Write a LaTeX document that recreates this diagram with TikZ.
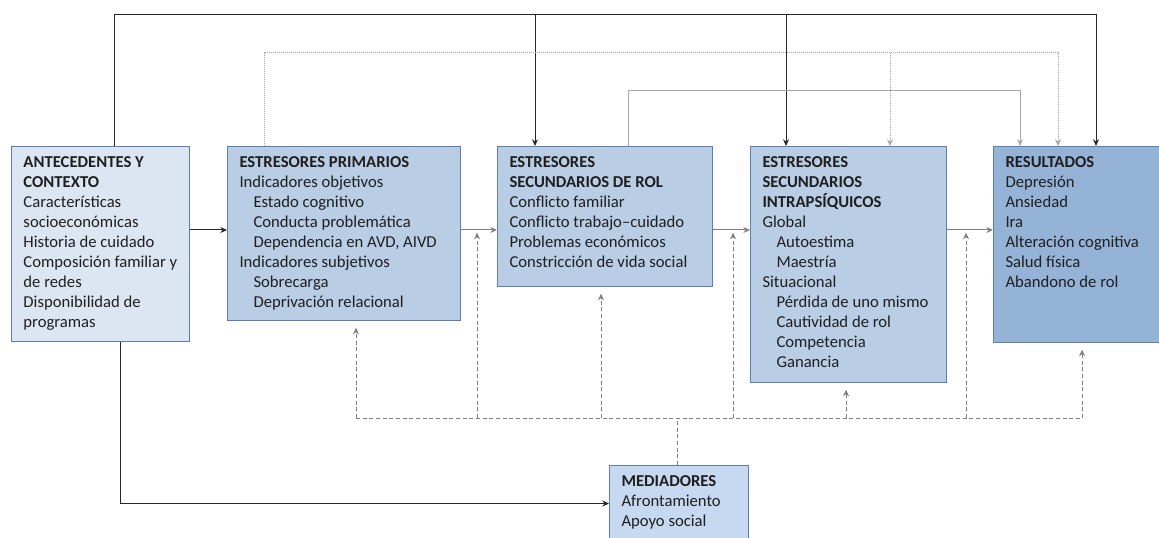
\documentclass[tikz,border=0pt]{standalone}
\usepackage{fontspec}
\setmainfont{Carlito}
\usetikzlibrary{arrows.meta}

\definecolor{antfill}{HTML}{DCE6F2}
\definecolor{midfill}{HTML}{B9CDE5}
\definecolor{resfill}{HTML}{95B3D7}
\definecolor{medfill}{HTML}{C6D9F1}
\definecolor{boxline}{HTML}{5A7EB5}
\definecolor{lnk}{HTML}{808080}
\definecolor{lnklight}{HTML}{A6A6A6}

\newcommand{\boxtext}[3]{\parbox[t][#2][t]{#1}{\raggedright\leftskip=9pt\relax #3}}
\newcommand{\ind}{\hspace*{10.5pt}}

\begin{document}
\begin{tikzpicture}[x=0.75pt,y=-0.75pt,
  block/.style={draw=boxline,line width=0.75pt,anchor=north west,inner xsep=0pt,inner ysep=7.75pt,
    font=\fontsize{12.5}{15}\selectfont,text=black!88},
  blk/.style={draw=black!85,line width=0.75pt,-{Stealth[length=5pt,width=4.5pt]}},
  gry/.style={draw=lnk,line width=0.75pt,-{Stealth[length=5pt,width=4.5pt]}},
  dotlink/.style={draw=lnklight,line width=0.75pt,dash pattern=on 0.75pt off 0.75pt,-{Stealth[length=5pt,width=4.5pt]}},
  dashlink/.style={draw=lnk,line width=0.75pt,dash pattern=on 3pt off 2pt,-{Stealth[length=5pt,width=4.5pt]}}]
\useasboundingbox (0,0) rectangle (1159,538);
% levels of the connectors
\coordinate (lvA) at (0,15);
\coordinate (lvB) at (0,53);
\coordinate (lvC) at (0,91);
\coordinate (mid) at (0,230);
\coordinate (lvD) at (0,418);
\foreach \n/\x in {kA/114,kB/535,kC/786,kD/1096,kE/264,kF/890,kG/1058,kH/628,kI/1020,kJ/120,kK/677,kL/356,kM/1082}
  \coordinate (\n) at (\x,0);
\path
(11,146) node [block,fill=antfill] (ant) {\boxtext{133.5pt}{130.75pt}{\textbf{ANTECEDENTES Y}\\\textbf{CONTEXTO}\\Características\\socioeconómicas\\Historia de cuidado\\Composición familiar y\\de redes\\Disponibilidad de\\programas}}
(227,146) node [block,fill=midfill] (prim) {\boxtext{174.75pt}{115pt}{\textbf{ESTRESORES PRIMARIOS}\\Indicadores objetivos\\\ind Estado cognitivo\\\ind Conducta problemática\\\ind Dependencia en AVD, AIVD\\Indicadores subjetivos\\\ind Sobrecarga\\\ind Deprivación relacional}}
(497,146) node [block,fill=midfill] (rol) {\boxtext{161.25pt}{89.5pt}{\textbf{ESTRESORES}\\\textbf{SECUNDARIOS DE ROL}\\Conflicto familiar\\Conflicto trabajo--cuidado\\Problemas económicos\\Constricción de vida social}}
(750,146) node [block,fill=midfill] (intra) {\boxtext{147pt}{161.5pt}{\textbf{ESTRESORES}\\\textbf{SECUNDARIOS}\\\textbf{INTRAPSÍQUICOS}\\Global\\\ind Autoestima\\\ind Maestría\\Situacional\\\ind Pérdida de uno mismo\\\ind Cautividad de rol\\\ind Competencia\\\ind Ganancia}}
(993,146) node [block,fill=resfill] (res) {\boxtext{127.5pt}{131.5pt}{\textbf{RESULTADOS}\\Depresión\\Ansiedad\\Ira\\Alteración cognitiva\\Salud física\\Abandono de rol}}
(609,465) node [block,fill=medfill] (med) {\boxtext{104pt}{41.5pt}{\textbf{MEDIADORES}\\Afrontamiento\\Apoyo social}}
;
% upper connectors
\draw[blk] (ant.north -| kA) |- (lvA -| kD) -- (res.north -| kD);
\draw[blk] (lvA -| kB) -- (rol.north -| kB);
\draw[blk] (lvA -| kC) -- (intra.north -| kC);
\draw[dotlink] (prim.north -| kE) |- (lvB -| kG) -- (res.north -| kG);
\draw[dotlink] (lvB -| kF) -- (intra.north -| kF);
\draw[gry,draw=lnklight] (rol.north -| kH) |- (lvC -| kI) -- (res.north -| kI);
% chain
\draw[blk] (ant.east |- mid) -- (prim.west |- mid);
\draw[gry] (prim.east |- mid) -- (rol.west |- mid);
\draw[gry] (rol.east |- mid) -- (intra.west |- mid);
\draw[gry] (intra.east |- mid) -- (res.west |- mid);
% mediators
\draw[blk] (ant.south -| kJ) |- (med.west);
\draw[dashlink,-] (med.north -| kK) -- (lvD -| kK);
\draw[dashlink,-] (lvD -| kL) -- (lvD -| kM);
\foreach \x/\t in {356/prim,601/rol,846/intra,1082/res}{
  \coordinate (up) at (\x,0);
  \draw[dashlink,shorten >=5pt] (lvD -| up) -- (\t.south -| up);
}
\foreach \x in {477,733,966}{
  \coordinate (up) at (\x,0);
  \draw[dashlink,shorten >=2pt] (lvD -| up) -- (mid -| up);
}
\end{tikzpicture}
\end{document}
